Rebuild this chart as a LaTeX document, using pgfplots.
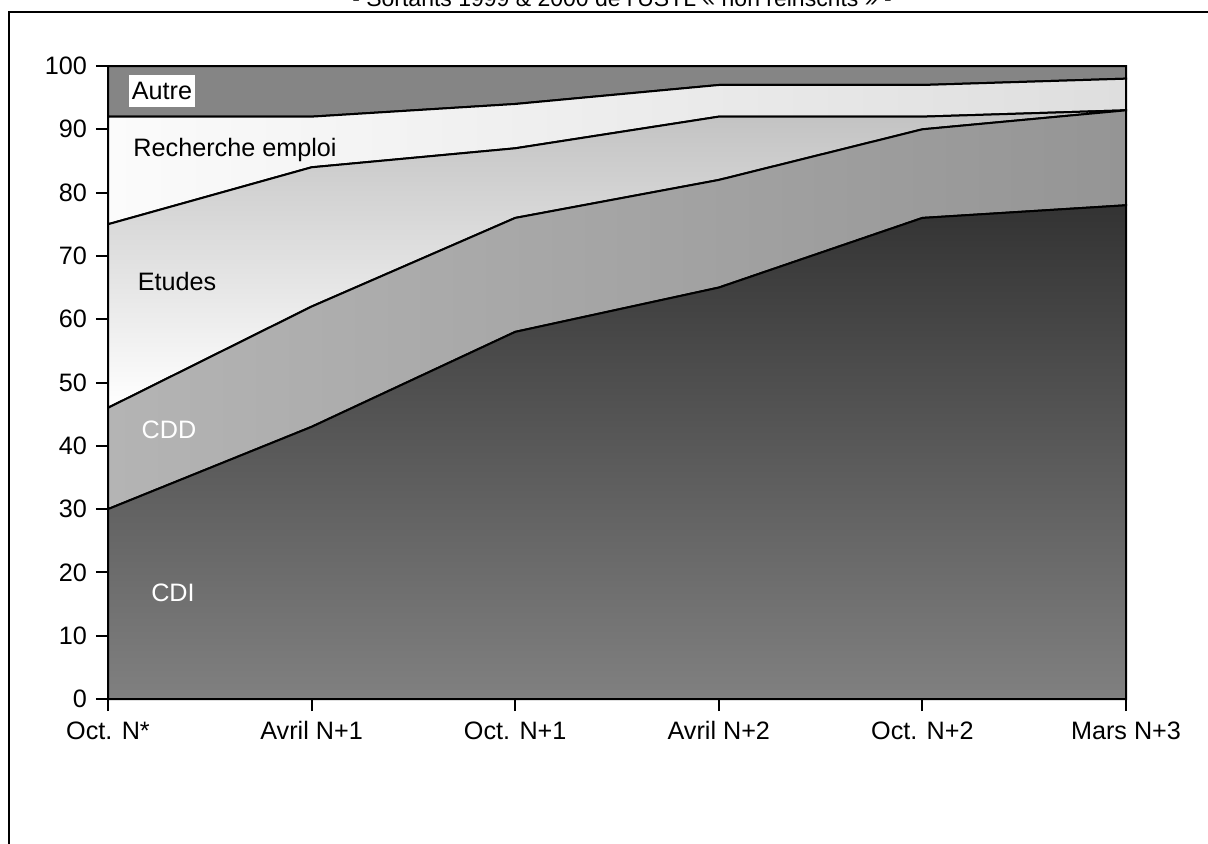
\documentclass[border=0pt]{standalone}
\usepackage{pgfplots}
\pgfplotsset{compat=1.18}
\usepackage{fontspec}
\setmainfont{Liberation Sans}
\definecolor{cdiTop}{HTML}{333333}
\definecolor{cdiBot}{HTML}{808080}
\definecolor{cddL}{HTML}{B4B4B4}
\definecolor{cddR}{HTML}{959595}
\definecolor{etTop}{HTML}{C2C2C2}
\definecolor{etBot}{HTML}{FFFFFF}
\definecolor{reL}{HTML}{FBFBFB}
\definecolor{reR}{HTML}{DEDEDE}
\definecolor{autre}{HTML}{858585}
\begin{document}
\begin{tikzpicture}
\useasboundingbox (-54pt,-72pt) rectangle (550pt,349.5pt);
\draw[line width=1pt] (-49.5pt,-90pt) -- (-49.5pt,343.5pt) -- (560pt,343.5pt);
\node[anchor=base, font=\fontsize{11.5}{13}\selectfont, inner sep=0pt] at (257pt,346.5pt) {{-} Sortants 1999 \& 2000 de l'USTL « non réinscrits » {-}};
\begin{axis}[
  at={(0pt,0pt)}, anchor=south west,
  width=509pt, height=316.5pt, scale only axis,
  xmin=0, xmax=5, ymin=0, ymax=100,
  stack plots=y,
  xtick={0,1,2,3,4,5},
  xticklabels={Oct. N*, Avril N+1, Oct. N+1, Avril N+2, Oct. N+2, Mars N+3},
  ytick={0,10,...,100},
  tick align=outside, tick pos=left,
  major tick length=6pt,
  axis line style={line width=1pt},
  every tick/.style={black, line width=1pt},
  ticklabel style={font=\fontsize{12.6}{14}\selectfont},
  /pgf/number format/assume math mode=true,
  xticklabel style={yshift=-1pt, text height=9.5pt, text depth=2.5pt},
  yticklabel style={xshift=-1pt},
  clip=false,
]
% CDI
\addplot[draw=black, line width=1pt, top color=cdiTop, bottom color=cdiBot] coordinates {(0,30) (1,43) (2,58) (3,65) (4,76) (5,78)} \closedcycle;
% CDD
\addplot[draw=black, line width=1pt, left color=cddL, right color=cddR] coordinates {(0,16) (1,19) (2,18) (3,17) (4,14) (5,15)} \closedcycle;
% Etudes
\addplot[draw=black, line width=1pt, top color=etTop, bottom color=etBot] coordinates {(0,29) (1,22) (2,11) (3,10) (4,2) (5,0)} \closedcycle;
% Recherche emploi
\addplot[draw=black, line width=1pt, left color=reL, right color=reR] coordinates {(0,17) (1,8) (2,7) (3,5) (4,5) (5,5)} \closedcycle;
% Autre
\addplot[draw=black, line width=1pt, fill=autre] coordinates {(0,8) (1,8) (2,6) (3,3) (4,3) (5,2)} \closedcycle;
\end{axis}
\node[fill=white, inner xsep=1.2pt, inner ysep=3.5pt, font=\fontsize{12.6}{14}\selectfont] at (27pt,304pt) {Autre};
\node[font=\fontsize{12.6}{14}\selectfont] at (63.5pt,274.5pt) {Recherche emploi};
\node[font=\fontsize{12.6}{14}\selectfont] at (34.5pt,209pt) {Etudes};
\node[font=\fontsize{12.6}{14}\selectfont, text=white] at (30.5pt,134.5pt) {CDD};
\node[font=\fontsize{12.6}{14}\selectfont, text=white] at (32.5pt,53pt) {CDI};
\end{tikzpicture}
\end{document}
